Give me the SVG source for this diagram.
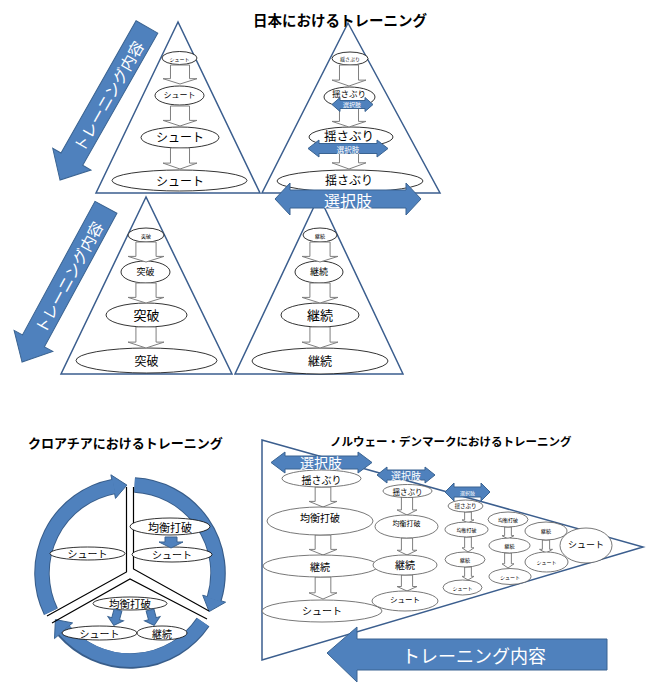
<svg xmlns="http://www.w3.org/2000/svg" xmlns:xlink="http://www.w3.org/1999/xlink" width="651" height="683" viewBox="0 0 651 683">
<style>
.tri{fill:none;stroke:#3B5E8E;stroke-width:1.5}
.ell{fill:#fff;stroke:#000;stroke-width:0.8}
.ellg{fill:#fff;stroke:#555;stroke-width:0.8}
.blue{fill:#4F81BD;stroke:#3A6391;stroke-width:1}
.t{font-family:'Noto Sans CJK JP','Noto Sans',sans-serif;text-anchor:middle;dominant-baseline:central;fill:#000}
.w{fill:#fff}
.title{font-family:'Noto Sans CJK JP','Noto Sans',sans-serif;font-weight:bold;fill:#000}
.garr{fill:#fff;stroke:#7F7F7F;stroke-width:1;vector-effect:non-scaling-stroke}
.div{fill:none;stroke:#000;stroke-width:1.2}
</style>
<defs>
<path id="darr" class="garr" d="M-0.28,0 H0.28 V0.72 H0.5 L0,1 L-0.5,0.72 H-0.28 Z"/>
</defs>
<rect width="651" height="683" fill="#fff"/>

<!-- Japan section -->
<g id="jp-title"><text class="title" x="340" y="26" font-size="14.5" text-anchor="middle">日本におけるトレーニング</text></g>

<g id="jp-tri-shoot">
<polygon class="tri" points="178,22 96,193 260,193"/>
<ellipse class="ell" cx="179.5" cy="58" rx="17.5" ry="6.5"/><text class="t" x="179.5" y="58" font-size="5">シュート</text>
<ellipse class="ell" cx="179.5" cy="95.5" rx="24.5" ry="9.5"/><text class="t" x="179.5" y="94" font-size="8">シュート</text>
<ellipse class="ell" cx="180" cy="137.5" rx="39" ry="10.5"/><text class="t" x="180" y="136.5" font-size="12">シュート</text>
<ellipse class="ell" cx="179.5" cy="180.5" rx="67.5" ry="10.5"/><text class="t" x="180" y="180.5" font-size="12">シュート</text>
</g>

<g id="jp-tri-yusaburi">
<polygon class="tri" points="348,23 262,193 440,193"/>
<ellipse class="ell" cx="350" cy="58.5" rx="18" ry="6.5"/><text class="t" x="350" y="58.5" font-size="5">揺さぶり</text>
<ellipse class="ell" cx="349.5" cy="97" rx="25.5" ry="10"/><text class="t" x="349" y="92.5" font-size="8.5">揺さぶり</text>
<ellipse class="ell" cx="351" cy="137" rx="42" ry="10"/><text class="t" x="349" y="135" font-size="12.5">揺さぶり</text>
<ellipse class="ell" cx="350" cy="181" rx="73" ry="11"/><text class="t" x="349" y="179" font-size="12">揺さぶり</text>
</g>

<g id="jp-tri-toppa">
<polygon class="tri" points="146,197 61,374 232,374"/>
<ellipse class="ell" cx="146" cy="235" rx="18" ry="7"/><text class="t" x="146" y="235" font-size="5">突破</text>
<ellipse class="ell" cx="145.5" cy="272" rx="24.5" ry="11"/><text class="t" x="145.5" y="271" font-size="9">突破</text>
<ellipse class="ell" cx="146.5" cy="315" rx="40.5" ry="12"/><text class="t" x="146.5" y="314.5" font-size="13">突破</text>
<ellipse class="ell" cx="146.5" cy="360.5" rx="70.5" ry="12.5"/><text class="t" x="146.5" y="360" font-size="12">突破</text>
</g>

<g id="jp-tri-keizoku">
<polygon class="tri" points="319,196 235,374 403,374"/>
<ellipse class="ell" cx="320" cy="235" rx="17" ry="7"/><text class="t" x="320" y="235" font-size="5">継続</text>
<ellipse class="ell" cx="319" cy="272" rx="24" ry="11"/><text class="t" x="319" y="271" font-size="9">継続</text>
<ellipse class="ell" cx="320" cy="315" rx="39" ry="12"/><text class="t" x="320" y="314.5" font-size="13">継続</text>
<ellipse class="ell" cx="320" cy="361" rx="68" ry="13"/><text class="t" x="320" y="360" font-size="12">継続</text>
</g>

<g id="jp-arrow-content-1" transform="translate(60,180) rotate(-60.4)">
<path class="blue" d="M0,0 L24,-22 V-12.5 H176 V12.5 H24 V22 Z"/>
<text class="t w" x="97" y="0" font-size="15.5">トレーニング内容</text>
</g>
<g id="jp-arrow-content-2" transform="translate(22,362) rotate(-61.5)">
<path class="blue" d="M0,0 L24,-22 V-12.5 H176 V12.5 H24 V22 Z"/>
<text class="t w" x="97" y="0" font-size="15.5">トレーニング内容</text>
</g>

<g id="connectors">
<!-- Japan down arrows -->
<use xlink:href="#darr" transform="translate(180,65) scale(34,19)"/>
<use xlink:href="#darr" transform="translate(180,106) scale(34,20)"/>
<use xlink:href="#darr" transform="translate(180,148) scale(34,21)"/>
<use xlink:href="#darr" transform="translate(349,65) scale(34,21)"/>
<use xlink:href="#darr" transform="translate(349,107) scale(34,20)"/>
<use xlink:href="#darr" transform="translate(349,147) scale(34,22)"/>
<use xlink:href="#darr" transform="translate(146,242) scale(36,20)"/>
<use xlink:href="#darr" transform="translate(146,283) scale(36,20)"/>
<use xlink:href="#darr" transform="translate(146,327) scale(36,21)"/>
<use xlink:href="#darr" transform="translate(320,242) scale(36,20)"/>
<use xlink:href="#darr" transform="translate(320,283) scale(36,20)"/>
<use xlink:href="#darr" transform="translate(320,327) scale(36,21)"/>
<!-- Norway down arrows -->
<use xlink:href="#darr" transform="translate(323,487) scale(28,20)"/>
<use xlink:href="#darr" transform="translate(323,535) scale(28,20)"/>
<use xlink:href="#darr" transform="translate(323,577) scale(28,22)"/>
<use xlink:href="#darr" transform="translate(407,497) scale(20,18)"/>
<use xlink:href="#darr" transform="translate(407,538) scale(20,17)"/>
<use xlink:href="#darr" transform="translate(407,575) scale(20,16)"/>
<use xlink:href="#darr" transform="translate(468,512) scale(12,11)"/>
<use xlink:href="#darr" transform="translate(468,537) scale(12,15)"/>
<use xlink:href="#darr" transform="translate(468,567) scale(12,13)"/>
<use xlink:href="#darr" transform="translate(508,527) scale(12,12)"/>
<use xlink:href="#darr" transform="translate(508,553) scale(12,15)"/>
<use xlink:href="#darr" transform="translate(546,540) scale(13,13)"/>
</g>

<g id="jp-choice-arrows">
<path class="blue" d="M332,104.5 L340,97.5 V100.5 H365 V97.5 L373,104.5 L365,111.5 V108.5 H340 V111.5 Z"/>
<text class="t w" x="352" y="104.5" font-size="6">選択肢</text>
<path class="blue" d="M308,148.5 L319,140 V143.5 H377 V140 L388,148.5 L377,157 V153.5 H319 V157 Z"/>
<text class="t w" x="348" y="149" font-size="7.5">選択肢</text>
<path class="blue" d="M275,199 L290,183 V190 H406 V183 L421,199 L406,215 V208 H290 V215 Z"/>
<text class="t w" x="348" y="200" font-size="16">選択肢</text>
</g>

<!-- Croatia section -->
<g id="hr-title"><text class="title" x="28" y="448" font-size="13">クロアチアにおけるトレーニング</text></g>

<g id="hr-cycle">
<g fill="none" stroke="#385D8A" stroke-width="15.5">
<path d="M50.9,611.6 A88,88 0 0 1 113.2,486.6"/>
<path d="M134.6,485.1 A88,88 0 0 1 214.2,598.7"/>
<path d="M203,622.2 A88,88 0 0 1 63.6,630.7"/>
</g>
<polygon class="blue" points="110.9,474.8 126.9,485.1 115.5,498.4"/>
<polygon class="blue" points="225.6,602.2 209.1,611.6 202.7,595.2"/>
<polygon class="blue" points="54.5,638.6 55.4,619.6 72.6,622.9"/>
<g fill="none" stroke="#4F81BD" stroke-width="13.5">
<path d="M50.9,611.6 A88,88 0 0 1 114,486.5"/>
<path d="M134.6,485.1 A88,88 0 0 1 213.8,599.5"/>
<path d="M203,622.2 A88,88 0 0 1 64.2,630.1"/>
</g>
</g>

<g id="hr-sectors">
<polyline class="div" points="126.5,487 126.5,572 47,616"/>
<polyline class="div" points="133.5,487 133.5,569 209,611"/>
<polyline class="div" points="52,623 130,579 207,619"/>
</g>

<g id="hr-shoot-left"><ellipse class="ell" cx="87.5" cy="553.5" rx="37.5" ry="6.5"/><text class="t" x="87.5" y="553.5" font-size="10">シュート</text></g>
<g id="hr-kinkou-1"><ellipse class="ell" cx="170" cy="526.5" rx="40" ry="8.5"/><text class="t" x="170" y="526.5" font-size="11">均衡打破</text></g>
<g id="hr-shoot-right"><ellipse class="ell" cx="172" cy="554.5" rx="40" ry="7.5"/><text class="t" x="172" y="554.5" font-size="10">シュート</text></g>
<g id="hr-kinkou-2"><ellipse class="ell" cx="130" cy="603.5" rx="37" ry="6.5"/><text class="t" x="130" y="603.5" font-size="10.5">均衡打破</text></g>
<g id="hr-shoot-bottom"><ellipse class="ell" cx="99.5" cy="633" rx="37.5" ry="7"/><text class="t" x="99.5" y="633" font-size="10">シュート</text></g>
<g id="hr-keizoku"><ellipse class="ell" cx="162" cy="633" rx="25" ry="7"/><text class="t" x="162" y="633" font-size="10">継続</text></g>

<g id="hr-blue-arrows">
<path class="blue" d="M165,537 H177 V542 H183 L171,548 L159,542 H165 Z"/>
<path class="blue" transform="translate(118,610) rotate(15)" d="M-4,0 H4 V9 H8 L0,16 L-8,9 H-4 Z"/>
<path class="blue" transform="translate(150,610) rotate(-15)" d="M-4,0 H4 V9 H8 L0,16 L-8,9 H-4 Z"/>
</g>

<!-- Norway / Denmark section -->
<g id="no-title"><text class="title" x="330" y="446" font-size="11.5">ノルウェー・デンマークにおけるトレーニング</text></g>
<g id="no-tri"><polygon class="tri" points="262,440 643,547 262,660"/></g>

<g id="no-col1">
<ellipse class="ellg" cx="321.5" cy="478.5" rx="39.5" ry="8.5"/><text class="t" x="321.5" y="479.5" font-size="10">揺さぶり</text>
<ellipse class="ellg" cx="320" cy="521" rx="53" ry="14"/><text class="t" x="320" y="517" font-size="10">均衡打破</text>
<ellipse class="ellg" cx="320.5" cy="566" rx="57.5" ry="11"/><text class="t" x="320" y="566" font-size="10">継続</text>
<ellipse class="ellg" cx="322" cy="611" rx="60" ry="11"/><text class="t" x="322" y="610" font-size="10">シュート</text>
</g>
<g id="no-col2">
<ellipse class="ellg" cx="407.5" cy="491" rx="24.5" ry="6.5"/><text class="t" x="407.5" y="491" font-size="7.5">揺さぶり</text>
<ellipse class="ellg" cx="406.5" cy="526.5" rx="31.5" ry="11.5"/><text class="t" x="406.5" y="523" font-size="7">均衡打破</text>
<ellipse class="ellg" cx="405" cy="565" rx="32" ry="10"/><text class="t" x="405" y="564" font-size="10">継続</text>
<ellipse class="ellg" cx="405" cy="601" rx="33" ry="10"/><text class="t" x="405" y="599.5" font-size="7.5">シュート</text>
</g>
<g id="no-col3">
<ellipse class="ellg" cx="465.5" cy="506" rx="17.5" ry="6"/><text class="t" x="465.5" y="506" font-size="5.5">揺さぶり</text>
<ellipse class="ellg" cx="466.5" cy="529.5" rx="21.5" ry="7.5"/><text class="t" x="466.5" y="529" font-size="5">均衡打破</text>
<ellipse class="ellg" cx="465" cy="559.5" rx="20" ry="7.5"/><text class="t" x="465" y="559" font-size="5">継続</text>
<ellipse class="ellg" cx="462.5" cy="587.5" rx="19.5" ry="7.5"/><text class="t" x="462.5" y="587" font-size="5">シュート</text>
</g>
<g id="no-col4">
<ellipse class="ellg" cx="508" cy="519.5" rx="20" ry="7.5"/><text class="t" x="508" y="519" font-size="5">均衡打破</text>
<ellipse class="ellg" cx="509.5" cy="545.5" rx="20.5" ry="7.5"/><text class="t" x="509.5" y="545" font-size="5">継続</text>
<ellipse class="ellg" cx="510" cy="576.5" rx="21" ry="8"/><text class="t" x="510" y="576" font-size="5">シュート</text>
</g>
<g id="no-col5">
<ellipse class="ellg" cx="546" cy="531" rx="21" ry="9"/><text class="t" x="546" y="530.5" font-size="5">継続</text>
<ellipse class="ellg" cx="546.5" cy="562" rx="21.5" ry="10"/><text class="t" x="546.5" y="561" font-size="5">シュート</text>
</g>
<g id="no-col6">
<ellipse class="ellg" cx="586" cy="545.5" rx="26" ry="17.5"/><text class="t" x="586" y="544.5" font-size="9">シュート</text>
</g>

<g id="no-choice-arrows">
<path class="blue" d="M271,462.5 L285,452 V456 H358 V452 L372,462.5 L358,473 V469 H285 V473 Z"/>
<text class="t w" x="321" y="462" font-size="14">選択肢</text>
<path class="blue" d="M377,475 L387,467 V470 H425 V467 L435,475 L425,483 V480 H387 V483 Z"/>
<text class="t w" x="406" y="475" font-size="10">選択肢</text>
<path class="blue" d="M445,492 L454,483 V487 H481 V483 L490,492 L481,501 V497 H454 V501 Z"/>
<text class="t w" x="467.5" y="492" font-size="5">選択肢</text>
</g>

<g id="no-arrow-content">
<path class="blue" d="M327,653 L357,627 V639 H607 V670 H357 V682 Z"/>
<text class="t w" x="474" y="654.5" font-size="18">トレーニング内容</text>
</g>
</svg>
